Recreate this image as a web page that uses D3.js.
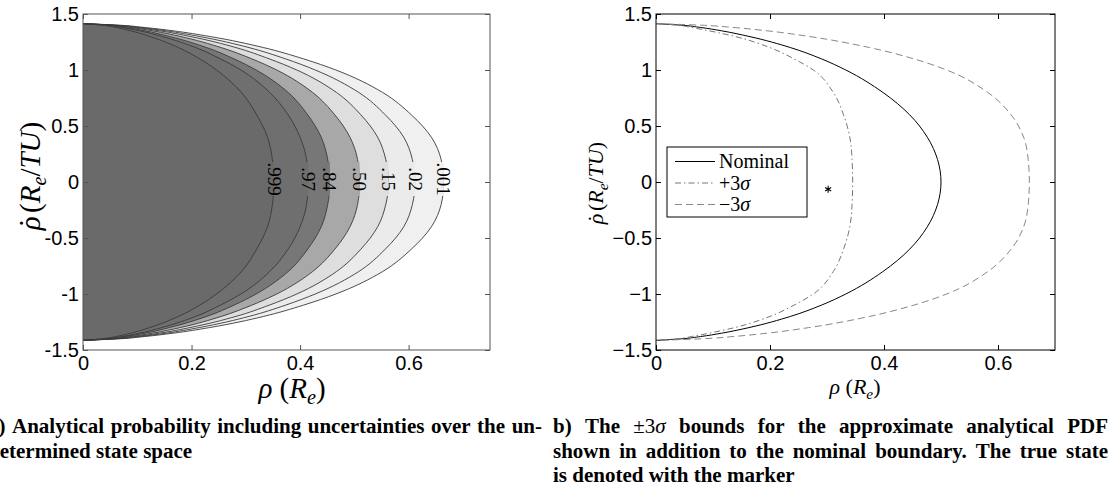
<!DOCTYPE html>
<html lang="en">
<head>
<meta charset="UTF-8">
<title>probability contours</title>
<script src="https://d3js.org/d3.v7.min.js"></script>
<style>
    body{margin:0;background:#fff;}
    svg{display:block;}
    .tick text{font-family:"Liberation Sans",Arial,sans-serif;font-size:20px;fill:#000;}
</style>
</head>
<body>
<div id="fig"></div>
<script>
    let rhoDot = [1.414,1.40,1.38,1.35,1.30,1.20,1.10,1.00,0.80,0.60,0.40,0.20,0,
                  -0.20,-0.40,-0.60,-0.80,-1.00,-1.10,-1.20,-1.30,-1.35,-1.38,-1.40,-1.414]

    // panel a: probability contours, rho (Re) at each rho-dot level
    let levelNames = [".001",".02",".15",".50",".84",".97",".999"]
    let c001 = [0,.067,.113,.166,.233,.333,.406,.466,.552,.605,.642,.660,.665,.660,.642,.605,.552,.466,.406,.333,.233,.166,.113,.067,0]
    let c02  = [0,.061,.104,.153,.214,.306,.373,.428,.508,.557,.591,.607,.612,.607,.591,.557,.508,.428,.373,.306,.214,.153,.104,.061,0]
    let c15  = [0,.056,.096,.141,.197,.282,.343,.394,.467,.512,.543,.558,.563,.558,.543,.512,.467,.394,.343,.282,.197,.141,.096,.056,0]
    let c50  = [0,.051,.087,.128,.179,.255,.311,.357,.423,.464,.492,.506,.510,.506,.492,.464,.423,.357,.311,.255,.179,.128,.087,.051,0]
    let c84  = [0,.046,.077,.114,.159,.228,.278,.319,.378,.414,.439,.451,.455,.451,.439,.414,.378,.319,.278,.228,.159,.114,.077,.046,0]
    let c97  = [0,.042,.071,.104,.145,.208,.253,.291,.344,.378,.400,.412,.415,.412,.400,.378,.344,.291,.253,.208,.145,.104,.071,.042,0]
    let c999 = [0,.035,.060,.088,.123,.176,.215,.246,.292,.320,.340,.349,.352,.349,.340,.320,.292,.246,.215,.176,.123,.088,.060,.035,0]
    let bandColors = ["#f0f0f0","#ebebeb","#dedede","#a8a8a8","#777777","#6f6f6f","#6a6a6a"]

    // panel b: nominal boundary and the +/-3 sigma bounds
    let nominal = [0,.045,.078,.115,.163,.236,.29,.333,.398,.445,.476,.494,.50,.494,.476,.445,.398,.333,.29,.236,.163,.115,.078,.045,0]
    let plus3   = [0,.038,.062,.093,.138,.20,.242,.276,.311,.329,.34,.344,.345,.344,.34,.329,.311,.276,.242,.20,.138,.093,.062,.038,0]
    let minus3  = [0,.08,.135,.195,.268,.375,.452,.51,.582,.623,.645,.653,.655,.653,.645,.623,.582,.51,.452,.375,.268,.195,.135,.08,0]
    let trueState = {rho:0.302, rhoDot:-0.065}

    let xTicks = [0,0.2,0.4,0.6]
    let yTicks = [-1.5,-1,-0.5,0,0.5,1,1.5]

    let serif = "'Liberation Serif','Tinos','Times New Roman','DejaVu Serif',serif"

    let svg = d3.select("#fig").append("svg").attr("width",1114).attr("height",489)

    function toPoints(arr){ return arr.map(function(r,i){ return [r, rhoDot[i]] }) }

    function frame(g, x, y, col, fmt){
        let x0 = x.range()[0], x1 = x.range()[1], y0 = y.range()[1], y1 = y.range()[0]
        g.append("rect").attr("x",x0).attr("y",y0).attr("width",x1-x0).attr("height",y1-y0)
            .attr("fill","none").attr("stroke",col).attr("stroke-width",1)
        let ax = [
            [d3.axisBottom(x).tickValues(xTicks).tickFormat(fmt).tickPadding(6), y1, 0],
            [d3.axisTop(x).tickValues(xTicks).tickFormat(""), y0, 0],
            [d3.axisLeft(y).tickValues(yTicks).tickFormat(fmt).tickPadding(4), 0, x0],
            [d3.axisRight(y).tickValues(yTicks).tickFormat(""), 0, x1]
        ]
        ax.forEach(function(a){
            let gg = g.append("g").attr("transform",`translate(${a[2]},${a[1]})`)
                .call(a[0].tickSizeInner(-5).tickSizeOuter(0))
            gg.select(".domain").remove()
            gg.selectAll(".tick line").attr("stroke",col)
        })
    }

    // text like  rho-dot (Re/TU)  or  rho (Re)
    function mathLabel(t, size, dot){
        t.attr("font-family",serif).attr("font-size",size).attr("fill","#000")
        t.append("tspan").attr("font-style","italic").text("ρ")
        if(dot){
            t.append("tspan").attr("dx",-0.40*size).text("˙")
            t.append("tspan").attr("dx",0.18*size).text("(")
        } else {
            t.append("tspan").text(" (")
        }
        t.append("tspan").attr("font-style","italic").text("R")
        t.append("tspan").attr("font-style","italic").attr("font-size",0.7*size).attr("dy",0.22*size).text("e")
        if(dot){
            t.append("tspan").attr("dy",-0.22*size).text("/")
            t.append("tspan").attr("font-style","italic").text("TU")
            t.append("tspan").text(")")
        } else {
            t.append("tspan").attr("dy",-0.22*size).text(")")
        }
    }

    // ---------- panel a ----------
    let xa = d3.scaleLinear().domain([0,0.75]).range([83,490])
    let ya = d3.scaleLinear().domain([-1.5,1.5]).range([350,14])
    let lineA = d3.line().x(function(d){return xa(d[0])}).y(function(d){return ya(d[1])}).curve(d3.curveMonotoneY)
    let contours = [c001,c02,c15,c50,c84,c97,c999]
    let ga = svg.append("g")

    contours.forEach(function(c,i){
        ga.append("path").attr("d",lineA(toPoints(c))+"Z").attr("fill",bandColors[i]).attr("stroke","none")
    })
    contours.forEach(function(c){
        ga.append("path").attr("d",lineA(toPoints(c))).attr("fill","none").attr("stroke","#3a3a3a").attr("stroke-width",0.9)
    })
    contours.forEach(function(c,i){
        let cx = xa(c[rhoDot.indexOf(0)]), cy = ya(0) - 3
        let outer = i === 0 ? "#ffffff" : bandColors[i-1]
        ga.append("rect").attr("x",cx-7).attr("y",cy-17).attr("width",7).attr("height",34).attr("fill",bandColors[i])
        ga.append("rect").attr("x",cx).attr("y",cy-17).attr("width",7).attr("height",34).attr("fill",outer)
        ga.append("text").attr("font-family",serif).attr("font-size",19)
            .attr("transform",`translate(${cx},${cy}) rotate(90)`)
            .attr("text-anchor","middle").attr("dominant-baseline","central")
            .text(levelNames[i])
    })
    frame(ga, xa, ya, "#555", function(d){return String(d)})

    mathLabel(ga.append("text").attr("text-anchor","middle")
        .attr("transform",`translate(40,176) rotate(-90)`), 29, true)
    mathLabel(ga.append("text").attr("text-anchor","middle")
        .attr("transform",`translate(292,398)`), 29, false)

    // ---------- panel b ----------
    let xb = d3.scaleLinear().domain([0,0.7]).range([656,1055])
    let yb = d3.scaleLinear().domain([-1.5,1.5]).range([350,14])
    let lineB = d3.line().x(function(d){return xb(d[0])}).y(function(d){return yb(d[1])}).curve(d3.curveMonotoneY)
    let gb = svg.append("g")
    let series = [
        {name:"Nominal", data:nominal, color:"#000", dash:null},
        {name:"+3σ", data:plus3, color:"#777", dash:"6,3,1.5,3"},
        {name:"−3σ", data:minus3, color:"#888", dash:"7,4"}
    ]
    series.forEach(function(s){
        gb.append("path").attr("d",lineB(toPoints(s.data))).attr("fill","none")
            .attr("stroke",s.color).attr("stroke-width",1).attr("stroke-dasharray",s.dash)
    })
    let star = d3.symbolAsterisk || d3.symbolCross
    gb.append("path").attr("d",d3.symbol().type(star).size(34)())
        .attr("transform",`translate(${xb(trueState.rho)},${yb(trueState.rhoDot)})`)
        .attr("fill","none").attr("stroke","#000").attr("stroke-width",1.1)

    frame(gb, xb, yb, "#000", function(d){return String(d).replace("-","−")})

    // legend
    let lg = gb.append("g")
    lg.append("rect").attr("x",667).attr("y",147).attr("width",140).attr("height",70)
        .attr("fill","#fff").attr("stroke","#000").attr("stroke-width",1)
    series.forEach(function(s,i){
        let yy = 161.5 + i*21.5
        lg.append("line").attr("x1",675).attr("x2",715).attr("y1",yy).attr("y2",yy)
            .attr("stroke",s.color).attr("stroke-width",1).attr("stroke-dasharray",s.dash)
        let t = lg.append("text").attr("font-family",serif).attr("font-size",20).attr("x",719).attr("y",yy+6.5)
        if(s.name.indexOf("σ") >= 0){
            t.append("tspan").text(s.name.replace("σ",""))
            t.append("tspan").attr("font-style","italic").text("σ")
        } else t.text(s.name)
    })

    mathLabel(gb.append("text").attr("text-anchor","middle")
        .attr("transform",`translate(603,183) rotate(-90)`), 22, true)
    mathLabel(gb.append("text").attr("text-anchor","middle")
        .attr("transform",`translate(855,394)`), 22, false)

    // ---------- captions ----------
    let capA = [["a) Analytical probability including uncertainties over the un-", true],
                ["determined state space", false]]
    let capB = [["b) The ±3σ bounds for the approximate analytical PDF", true],
                ["shown in addition to the nominal boundary. The true state", true],
                ["is denoted with the marker", false]]

    function addWord(g, w){
        let t = g.append("text").attr("font-family",serif).attr("font-size",21).attr("font-weight","bold")
        if(w.indexOf("σ") >= 0){
            t.append("tspan").attr("font-weight","normal").text(w.replace("σ",""))
            t.append("tspan").attr("font-weight","normal").attr("font-style","italic").text("σ")
        } else t.text(w)
        return t
    }
    function caption(lines, x0, x1, y0){
        let g = svg.append("g")
        lines.forEach(function(l,li){
            let words = l[0].split(" ")
            let ts = words.map(function(w){ return addWord(g,w) })
            let widths = ts.map(function(t){ return t.node().getComputedTextLength() })
            let gap = 5.25
            if(l[1]) gap = Math.max(2,(x1-x0-d3.sum(widths))/(words.length-1))
            let x = x0
            ts.forEach(function(t,i){
                t.attr("x",x).attr("y",y0+li*24.5)
                x += widths[i] + gap
            })
        })
    }
    caption(capA, -12, 542, 433)
    caption(capB, 553, 1108, 433)
</script>
</body>
</html>
